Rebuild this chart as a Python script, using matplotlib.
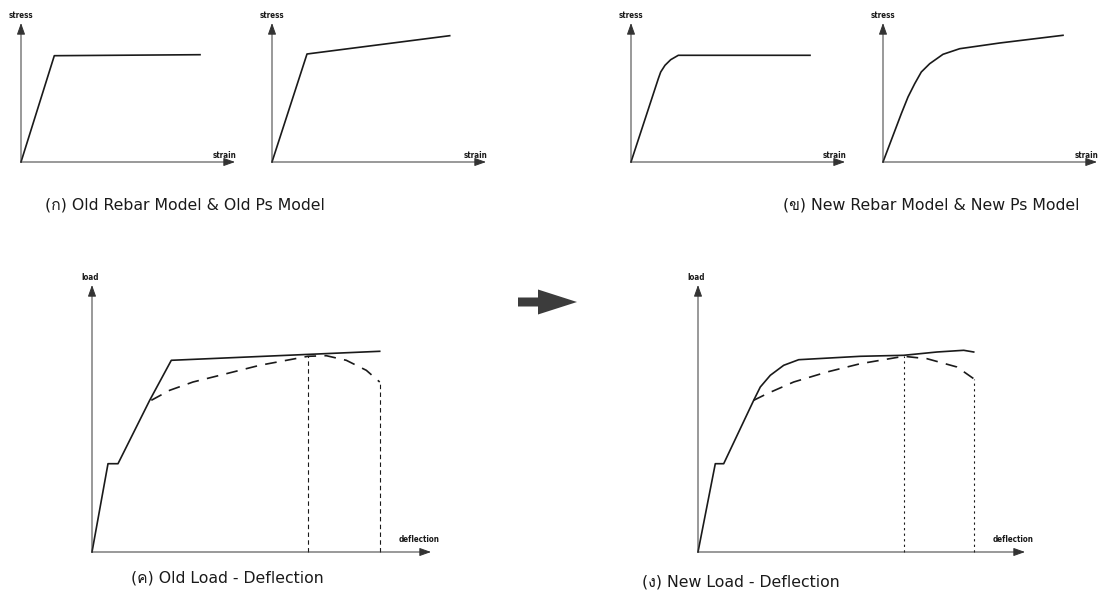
import matplotlib
matplotlib.use("Agg")
import matplotlib.pyplot as plt
from matplotlib import font_manager
from fontTools.ttLib import TTFont

# ---- find an installed family that carries Thai glyphs ----
def thai_family():
    for fe in font_manager.fontManager.ttflist:
        try:
            f = TTFont(fe.fname, fontNumber=0, lazy=True)
            cmap = f.getBestCmap()
            if cmap and 0x0E01 in cmap and 0x0E07 in cmap:
                return fe.name
        except Exception:
            continue
    return None

TH = thai_family()
CAP_FAMILY = ["DejaVu Sans"] + ([TH] if TH else [])

# ---- data ----
# (a) old rebar / old prestressing models
old_rebar_strain = [0, 33.3, 179]
old_rebar_stress = [0, 106.3, 107.3]
old_ps_strain = [0, 35, 177.7]
old_ps_stress = [0, 108, 126.3]
# (b) new rebar / new prestressing models
new_rebar_strain = [0, 27.3, 29.7, 34, 39.7, 47.3, 179]
new_rebar_stress = [0, 83.3, 90, 96.7, 102.3, 106.7, 106.7]
new_ps_strain = [0, 18.3, 25, 31.7, 38.3, 46.7, 60, 76.7, 116.7, 180]
new_ps_stress = [0, 48.3, 65, 78.3, 90, 98.3, 107.7, 113.3, 119, 126.7]
# (c) old load-deflection
old_calc_defl = [0, 16, 26, 57.7, 79.3, 287.7]
old_calc_load = [0, 88.3, 88.3, 151.7, 191.7, 200.7]
old_test_defl = [59.3, 77.7, 101, 134.3, 167.7, 216, 234.3, 254.3, 274.3, 287.7]
old_test_load = [151.7, 161.7, 170, 178.3, 186.7, 195.7, 196.3, 191.7, 181.7, 170]
# (d) new load-deflection
new_calc_defl = [0, 17.3, 25.7, 55.7, 62.3, 72.3, 85.7, 100.7, 162.3, 205.7, 239, 265.7, 275.7]
new_calc_load = [0, 88.3, 88.3, 151.7, 165, 176.7, 186.7, 192.3, 195.7, 196.7, 200, 201.7, 200]
new_test_defl = [55.7, 69, 95.7, 129, 162.3, 205.7, 229, 259, 275.7]
new_test_load = [151.7, 158.3, 170, 180, 188.3, 195.7, 193.3, 185, 173.3]

captions = ["(\u0e01) Old Rebar Model & Old Ps Model",
            "(\u0e02) New Rebar Model & New Ps Model",
            "(\u0e04) Old Load - Deflection",
            "(\u0e07) New Load - Deflection"]

W, H = 1108, 594
fig = plt.figure(figsize=(W / 100, H / 100), dpi=100)
fig.patch.set_facecolor("white")

INK = "#1a1a1a"
AX_INK = "#333333"


def panel(ox, oy, w, h):
    ax = fig.add_axes([ox / W, (H - oy) / H, w / W, h / H])
    ax.set_xlim(0, w)
    ax.set_ylim(0, h)
    ax.axis("off")
    kw = dict(arrowstyle="-|>,head_length=0.7,head_width=0.25", lw=0.7,
              color=AX_INK, shrinkA=0, shrinkB=0, mutation_scale=10)
    ax.annotate("", xy=(w, 0), xytext=(0, 0), arrowprops=kw, annotation_clip=False)
    ax.annotate("", xy=(0, h), xytext=(0, 0), arrowprops=kw, annotation_clip=False)
    return ax


def small(ax, x, y, s, ha="center"):
    ax.text(x, y, s, fontsize=5.8, fontweight="bold", color=INK,
            ha=ha, va="center", clip_on=False, family="DejaVu Sans",
            fontstretch="condensed")


# top row: stress-strain models
for (ox, x, y) in [(21, old_rebar_strain, old_rebar_stress),
                   (272, old_ps_strain, old_ps_stress),
                   (631, new_rebar_strain, new_rebar_stress),
                   (883, new_ps_strain, new_ps_stress)]:
    ax = panel(ox, 162, 214, 139)
    ax.plot(x, y, color=INK, lw=1.2, clip_on=False, solid_joinstyle="round")
    small(ax, 0, 147, "stress")
    small(ax, 204, 7, "strain")

# bottom row: load-deflection
for (ox, w, cd, cl, td, tl, vstyle) in [
        (92, 339, old_calc_defl, old_calc_load, old_test_defl, old_test_load, (0, (4, 3))),
        (698, 327, new_calc_defl, new_calc_load, new_test_defl, new_test_load, (0, (2, 3)))]:
    ax = panel(ox, 552, w, 267)
    ax.plot(cd, cl, color=INK, lw=1.2, clip_on=False, solid_joinstyle="round")
    ax.plot(td, tl, color=INK, lw=1.2, ls=(0, (7, 5)), clip_on=False)
    for i in (5, len(td) - 1):
        ax.plot([td[i], td[i]], [0, tl[i]], color=INK, lw=0.8, ls=vstyle, clip_on=False)
    small(ax, -2, 274, "load")
    small(ax, w - 12, 13, "deflection")

# captions
cap_kw = dict(fontsize=11.3, color=INK, ha="center", va="center", family=CAP_FAMILY)
fig.text(185 / W, 1 - 205 / H, captions[0], **cap_kw)
fig.text(931 / W, 1 - 205 / H, captions[1], **cap_kw)
fig.text(227 / W, 1 - 578 / H, captions[2], **cap_kw)
fig.text(741 / W, 1 - 582 / H, captions[3], **cap_kw)

# block arrow between the two load-deflection sketches
fig.patches.append(matplotlib.patches.FancyArrow(
    518 / W, 1 - 302 / H, 59 / W, 0, width=9 / H, head_width=25 / H,
    head_length=39 / W, length_includes_head=True, transform=fig.transFigure,
    color="#3c3c3c", lw=0))

fig.savefig("out.png", dpi=100)
